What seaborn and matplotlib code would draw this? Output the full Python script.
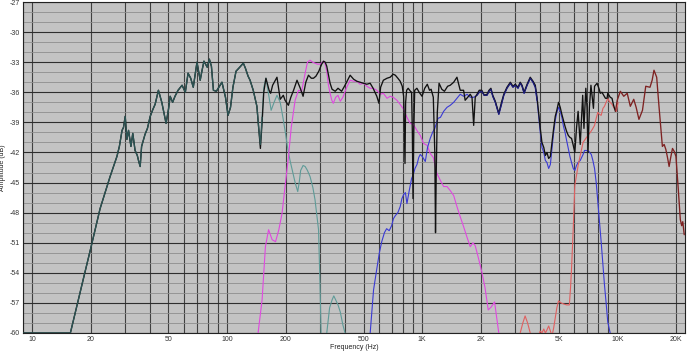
import matplotlib
matplotlib.use('Agg')
import matplotlib.pyplot as plt
from matplotlib.ticker import FixedLocator, FixedFormatter, NullFormatter
import pandas as pd
import seaborn as sns

# ---------------- data ----------------
sum_f = [9, 15.7, 17, 18.5, 20, 22.3, 25.1, 27.2, 28, 28.9, 29.4, 30, 30.6, 31.2, 32.1, 32.8,
         33.7, 34.6, 35.2, 35.8, 36.4, 37.9, 39, 40.3, 41.6, 42.7, 44.4, 46.2, 48.6, 50, 51,
         52.5, 54, 56, 58.7, 61, 63, 65, 67, 70, 72.7, 74, 76, 79, 81, 83, 85, 88, 90, 94,
         98, 101, 104, 107, 111, 116, 121, 124, 128, 131, 136, 142, 145, 148, 151, 154, 158,
         164, 167, 171, 180, 187, 194, 198, 206, 212, 219, 228, 237, 245, 253, 261, 270, 277,
         285, 295, 305, 312, 318, 324, 330, 337, 345, 358, 370, 386, 402, 427, 445, 462, 480,
         500, 520, 541, 560, 585, 600, 612, 632, 660, 685, 710, 728, 750, 771, 790, 803, 810,
         816, 822, 832, 847, 870, 882, 890, 897, 905, 915, 939, 965, 998, 1030, 1062, 1090,
         1111, 1140, 1160, 1170, 1180, 1195, 1220, 1260, 1300, 1350, 1392, 1450, 1507, 1566,
         1630, 1660, 1763, 1800, 1836, 1870, 1910, 1960, 2020, 2080, 2150, 2200, 2250, 2300,
         2370, 2470, 2550, 2620, 2720, 2830, 2920, 3000, 3100, 3180, 3250, 3330, 3450, 3580,
         3700, 3800, 3880, 3950, 4030, 4110, 4200, 4280, 4360, 4450, 4540, 4630, 4720, 4810,
         4900, 5000, 5100, 5200, 5300, 5400, 5500, 5610, 5720, 5830, 5950, 6060, 6180, 6300,
         6460, 6650, 6750, 6900, 7000, 7080, 7200, 7330, 7550, 7650, 7880, 8050, 8190, 8350,
         8520, 8700, 8870, 8940, 9210, 9400, 9580, 9790, 10000, 10370, 10800, 11250,
         11670, 12150, 12500, 12920, 13470, 14000, 14720, 15100, 15430, 15930, 16370, 17040,
         17400, 17750, 18100, 18450, 18800, 19200, 19600, 20000, 20580, 21060, 21400, 21680,
         22050]
sum_db = [-60, -60, -57.2, -54.2, -51.5, -47.6, -44.4, -42.4, -41.4, -39.8, -39.5, -38.4, -40.7,
          -39.8, -41.4, -40.1, -41.8, -42.3, -42.9, -43.4, -41.4, -40.2, -39.6, -38.4, -37.7,
          -37.2, -35.8, -37.0, -39.1, -37.7, -36.4, -37.0, -36.4, -35.8, -35.3, -36.0, -34.1,
          -34.6, -35.5, -33.0, -34.8, -34.0, -32.9, -33.5, -32.7, -33.4, -35.8, -35.9, -35.6,
          -35.0, -36.5, -38.3, -37.5, -35.5, -33.9, -33.5, -33.1, -33.6, -34.4, -34.8, -35.8,
          -37.4, -39.5, -41.6, -39.0, -36.0, -34.6, -35.8, -36.1, -35.3, -34.5, -36.7, -36.3,
          -36.8, -37.3, -36.5, -35.8, -34.8, -35.6, -36.4, -35.0, -34.3, -34.6, -34.6, -34.4,
          -33.9, -33.2, -32.9, -33.0, -33.4, -34.2, -35.1, -35.7, -35.9, -35.6, -35.9, -35.3,
          -34.3, -34.7, -34.9, -35.0, -35.1, -35.2, -35.1, -35.6, -36.4, -37.1, -35.5, -34.8,
          -34.6, -34.5, -34.2, -34.3, -34.6, -34.9, -35.4, -36.4, -40.0, -43.1, -37.0, -35.8,
          -35.6, -35.9, -36.0, -40.0, -46.6, -40.0, -35.8, -35.6, -36.0, -36.4, -35.6, -35.2,
          -35.8, -35.7, -36.5, -42.0, -50.0, -44.0, -38.0, -35.1, -35.7, -35.9, -35.4, -35.3,
          -35.0, -34.5, -35.8, -35.8, -36.8, -36.2, -36.5, -39.3, -36.5, -36.2, -35.8, -35.8,
          -36.3, -36.2, -35.8, -35.6, -36.3, -36.9, -38.1, -37.0, -36.2, -35.5, -35.0, -35.4,
          -35.2, -35.5, -35.0, -35.3, -36.0, -35.2, -34.5, -34.9, -35.3, -36.5, -38.0, -39.6,
          -41.0, -41.5, -42.3, -42.0, -42.6, -42.4, -41.0, -39.6, -38.4, -37.8, -37.0, -37.5,
          -38.2, -38.8, -39.4, -39.9, -40.3, -40.5, -40.6, -41.3, -42.0, -39.6, -37.9,
          -41.2, -36.3, -39.6, -35.6, -37.5, -42.0, -37.5, -35.3, -37.6, -35.4, -35.1, -35.6,
          -36.1, -36.0, -36.3, -36.6, -36.6, -36.1, -36.5, -36.6, -37.3, -37.9, -36.8, -35.9,
          -36.4, -36.1, -37.4, -36.7, -37.5, -38.7, -37.8, -35.4, -35.5, -34.8, -33.8, -34.5,
          -37.4, -41.4, -41.2, -41.7, -42.5, -43.4, -42.5, -41.6, -41.9, -42.4, -45.8, -48.7,
          -49.3, -48.9, -50.2]

woofer_f = [9, 15.7, 17, 18.5, 20, 22.3, 25.1, 27.2, 28, 28.9, 29.4, 30, 30.6, 31.2, 32.1, 32.8,
            33.7, 34.6, 35.2, 35.8, 36.4, 37.9, 39, 40.3, 41.6, 42.7, 44.4, 46.2, 48.6, 50, 51,
            52.5, 54, 56, 58.7, 61, 63, 65, 67, 70, 72.7, 74, 76, 79, 81, 83, 85, 88, 90, 94,
            98, 101, 104, 107, 111, 116, 121, 124, 128, 131, 136, 142, 145, 148, 151, 154, 158,
            164, 168, 174, 180, 187, 193, 198, 204, 210, 217, 223, 230, 234, 238, 245, 251, 258,
            266, 275, 282, 294, 299, 303, 312, 324, 335, 345, 352, 358, 370, 380, 392, 402, 412]
woofer_db = [-60, -60, -57.2, -54.2, -51.5, -47.6, -44.4, -42.4, -41.4, -39.8, -39.5, -38.4,
             -40.7, -39.8, -41.4, -40.1, -41.8, -42.3, -42.9, -43.4, -41.4, -40.2, -39.6, -38.4,
             -37.7, -37.2, -35.8, -37.0, -39.1, -37.7, -36.4, -37.0, -36.4, -35.8, -35.3, -36.0,
             -34.1, -34.6, -35.5, -33.0, -34.8, -34.0, -32.9, -33.5, -32.7, -33.4, -35.8, -35.9,
             -35.6, -35.0, -36.5, -38.3, -37.5, -35.5, -33.9, -33.5, -33.1, -33.6, -34.4, -34.8,
             -35.8, -37.4, -39.5, -41.2, -38.5, -35.5, -34.6, -36.5, -37.8, -37.0, -36.3, -37.0,
             -38.5, -39.8, -41.5, -42.8, -44.0, -45.0, -45.9, -45.0, -43.8, -43.3, -43.4, -43.8,
             -44.4, -45.5, -46.7, -49.7, -55.0, -60.0, -63.0, -60.0, -57.5, -56.7, -56.3, -56.6,
             -57.2, -57.9, -59.2, -60.0, -63.0]

mid_f = [140, 144, 151, 157, 163, 170, 177, 184, 191, 198, 206, 213, 223, 232, 241, 251, 258,
         266, 274, 282, 290, 300, 312, 318, 324, 330, 337, 344, 350, 360, 370, 380, 392, 410,
         427, 445, 462, 480, 500, 520, 541, 560, 585, 610, 632, 660, 685, 710, 742, 770, 803,
         835, 867, 900, 939, 977, 1016, 1060, 1099, 1140, 1190, 1240, 1288, 1340, 1392, 1450,
         1507, 1566, 1630, 1700, 1763, 1820, 1870, 1940, 2020, 2100, 2180, 2260, 2350, 2410,
         2470, 2520]
mid_db = [-63, -60, -56.7, -51.4, -49.7, -50.7, -50.9, -49.7, -48.1, -45.4, -42.5, -39.5,
          -36.8, -35.8, -35.9, -34.1, -33.0, -32.8, -33.0, -33.1, -33.2, -33.2, -32.9, -33.2,
          -33.9, -35.2, -36.1, -36.8, -37.1, -36.5, -36.3, -36.9, -36.5, -35.5, -34.8, -34.9,
          -34.9, -35.2, -35.1, -35.4, -35.6, -35.6, -35.8, -36.2, -36.1, -36.6, -36.4, -36.5,
          -36.8, -37.2, -37.7, -38.5, -39.1, -39.2, -39.8, -40.3, -41.1, -41.3, -42.1, -42.5,
          -44.1, -44.8, -45.4, -45.4, -45.8, -46.3, -47.4, -48.4, -49.4, -50.5, -51.4, -51.0,
          -51.3, -52.5, -53.9, -55.5, -57.7, -57.4, -56.9, -58.5, -60.0, -63.0]

upper_f = [530, 541, 563, 585, 603, 620, 640, 657, 677, 697, 712, 728, 750, 771, 787, 803, 820,
           835, 858, 882, 900, 918, 940, 960, 977, 1000, 1037, 1065, 1099, 1130, 1160, 1205,
           1240, 1288, 1340, 1392, 1450, 1507, 1566, 1630, 1700, 1763, 1836, 1910, 1960, 2020,
           2080, 2150, 2200, 2250, 2300, 2370, 2470, 2550, 2620, 2720, 2830, 2920, 3000, 3100,
           3180, 3250, 3330, 3450, 3580, 3700, 3800, 3880, 3950, 4030, 4110, 4200, 4280, 4360,
           4450, 4540, 4630, 4720, 4810, 4900, 5000, 5100, 5200, 5300, 5400, 5500, 5610, 5720,
           5830, 5950, 6060, 6180, 6300, 6460, 6680, 6800, 6940, 7150, 7360, 7500, 7650, 7800,
           7950, 8100, 8270, 8430, 8600, 8770, 8940, 9200, 9400]
upper_db = [-63, -60, -55.7, -53.6, -52.0, -50.9, -50.0, -49.6, -49.8, -49.3, -48.6, -48.3,
            -48.0, -47.4, -46.6, -46.2, -46.0, -47.1, -45.8, -44.6, -44.2, -43.6, -43.2, -42.5,
            -42.2, -42.4, -42.9, -41.5, -40.6, -40.0, -39.6, -38.6, -38.5, -37.9, -37.5, -37.3,
            -37.0, -36.6, -36.2, -36.4, -36.2, -36.5, -36.5, -36.3, -36.0, -35.9, -36.3, -36.3,
            -35.9, -35.7, -36.4, -37.0, -38.2, -37.2, -36.3, -35.6, -35.1, -35.5, -35.3, -35.6,
            -35.1, -35.4, -36.1, -35.3, -34.6, -35.0, -35.5, -36.8, -38.3, -40.0, -41.5, -42.0,
            -42.8, -43.0, -43.6, -43.2, -41.6, -40.0, -38.8, -38.0, -37.5, -37.9, -38.5, -39.4,
            -40.0, -40.8, -41.6, -42.4, -43.0, -43.6, -43.8, -43.3, -43.0, -42.8, -42.2, -41.8,
            -41.8, -41.9, -42.2, -42.8, -43.6, -45.0, -46.9, -48.8, -50.9, -53.0, -55.2, -57.0,
            -58.9, -60.0, -63.0]

tweeter_f = [3050, 3180, 3280, 3370, 3470, 3580, 3700, 3900, 4030, 4110, 4200, 4280, 4360, 4450,
             4540, 4630, 4720, 4810, 4900, 5000, 5150, 5300, 5500, 5680, 5760, 5830, 5950, 6060,
             6180, 6300, 6460, 6680, 6900, 7080, 7275, 7450, 7650, 7800, 7950, 8100, 8270, 8450,
             8600, 8770, 8940, 9100, 9400, 9650, 9900, 10100, 10370]
tweeter_db = [-63, -60, -59.0, -58.3, -59.0, -60.0, -61.0, -60.5, -59.8, -60.0, -59.6, -60.0,
              -59.7, -59.3, -59.8, -60.3, -59.5, -58.5, -57.5, -56.8, -57.0, -57.1, -57.2,
              -57.2, -55.5, -53.6, -49.5, -45.3, -44.3, -43.3, -42.3, -41.0, -40.6, -40.3,
              -40.0, -39.7, -39.3, -38.6, -38.0, -38.2, -38.3, -37.6, -37.4, -37.0, -36.6,
              -36.9, -37.2, -37.6, -37.9, -37.0, -36.1]

y_ticks = [-27, -30, -33, -36, -39, -42, -45, -48, -51, -54, -57, -60]
x_ticks = [10, 20, 50, 100, 200, 500, 1000, 2000, 5000, 10000, 20000]
x_tick_labels = ['10', '20', '50', '100', '200', '500', '1K', '2K', '5K', '10K', '20K']

# ---------------- drawing ----------------
sns.set_theme(style='white')
plt.rcParams['font.family'] = ['Liberation Sans', 'DejaVu Sans']

fig = plt.figure(figsize=(6.9, 3.51), dpi=100)
ax = fig.add_axes([0.033, 0.0513, 0.960, 0.943])
ax.set_facecolor('#c3c3c3')
fig.patch.set_facecolor('white')

XN, YN = 'Frequency (Hz)', 'Amplitude (dB)'


def frame(f, db, lo=None, hi=None):
    df = pd.DataFrame({XN: f, YN: db})
    if lo is not None:
        df = df[df[XN] >= lo]
    if hi is not None:
        df = df[df[XN] <= hi]
    return df


def draw(df, color, lw, z):
    sns.lineplot(data=df, x=XN, y=YN, color=color, linewidth=lw, ax=ax,
                 sort=False, estimator=None, zorder=z)


# component curves (under the sum)
draw(frame(woofer_f, woofer_db, lo=151), '#5e9b98', 0.8, 3)
draw(frame(mid_f, mid_db), '#e048e0', 0.8, 3)
draw(frame(upper_f, upper_db), '#3a3ad4', 0.8, 3)
draw(frame(tweeter_f, tweeter_db, hi=10100), '#e06060', 0.8, 3)

# summed response
draw(frame(sum_f, sum_db, hi=9790), '#111111', 0.95, 4)
draw(frame(sum_f, sum_db, lo=9790), '#7e2222', 0.95, 4)

# overlapping parts (components coincide with the sum)
draw(frame(woofer_f, woofer_db, hi=151), '#2c5454', 0.95, 5)
draw(frame(upper_f, upper_db, lo=1900, hi=3880), '#1c1c72', 0.9, 5)

ax.set_xscale('log')
ax.set_xlim(8.95, 22300)
ax.set_ylim(-60, -27)

ax.xaxis.set_major_locator(FixedLocator(x_ticks))
ax.xaxis.set_major_formatter(FixedFormatter(x_tick_labels))
minor_x = [m * 10 ** e for e in range(0, 5) for m in range(1, 10)]
minor_x = [v for v in minor_x if 9 <= v <= 22000 and v not in x_ticks]
ax.xaxis.set_minor_locator(FixedLocator(minor_x))
ax.xaxis.set_minor_formatter(NullFormatter())

ax.yaxis.set_major_locator(FixedLocator(y_ticks))
ax.yaxis.set_major_formatter(FixedFormatter([str(v) for v in y_ticks]))
ax.yaxis.set_minor_locator(FixedLocator([v for v in range(-59, -27) if v % 3 != 0]))

ax.set_axisbelow(True)
ax.grid(which='major', axis='y', color='#2e2e2e', linewidth=0.8)
ax.grid(which='minor', axis='y', color='#8e8e8e', linewidth=0.6)
ax.grid(which='both', axis='x', color='#404040', linewidth=0.8)

ax.tick_params(axis='both', which='both', length=0, labelsize=5, colors='#333333')
ax.tick_params(axis='x', pad=2.5)
ax.tick_params(axis='y', pad=2)

ax.set_xlabel(XN, fontsize=5, color='#222222', labelpad=0.5)
ax.set_ylabel(YN, fontsize=5, color='#222222', labelpad=2.5)

for s in ax.spines.values():
    s.set_visible(True)
    s.set_color('#222222')
    s.set_linewidth(0.8)

fig.savefig('out.png', dpi=100, facecolor='white')
